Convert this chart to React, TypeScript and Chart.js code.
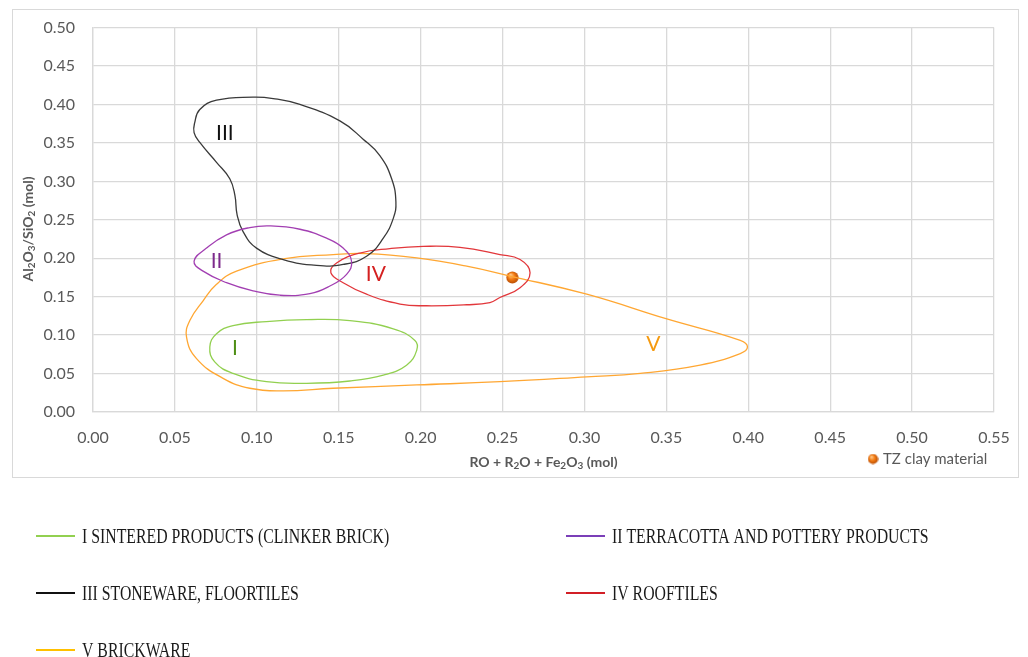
import { useEffect, useRef } from 'react';
import { Chart, registerables } from 'chart.js';

Chart.register(...registerables);

type Pt = [number, number];

// Axis tick labels
const xTickLabels = ['0.00', '0.05', '0.10', '0.15', '0.20', '0.25', '0.30', '0.35', '0.40', '0.45', '0.50', '0.55'];
const yTickLabels = ['0.00', '0.05', '0.10', '0.15', '0.20', '0.25', '0.30', '0.35', '0.40', '0.45', '0.50'];

// Winkler-type fields: outline points (RO + R2O + Fe2O3, Al2O3/SiO2)
const zoneI: Pt[] = [
  [0.0713, 0.0845], [0.0754, 0.1017], [0.0855, 0.1124], [0.1059, 0.1176], [0.1304, 0.1201],
  [0.1568, 0.1188], [0.1833, 0.1082], [0.1965, 0.0931], [0.1976, 0.0802], [0.1914, 0.0609],
  [0.1772, 0.0480], [0.1568, 0.0403], [0.1304, 0.0373], [0.1059, 0.0394], [0.0855, 0.0502],
  [0.0743, 0.0652],
];
const zoneII: Pt[] = [
  [0.0617, 0.1961], [0.0693, 0.2132], [0.0815, 0.2305], [0.0957, 0.2399], [0.1079, 0.2421],
  [0.1263, 0.2377], [0.1426, 0.2261], [0.1527, 0.2132], [0.1578, 0.1961], [0.1548, 0.1790],
  [0.1446, 0.1639], [0.1324, 0.1540], [0.1141, 0.1519], [0.0977, 0.1575], [0.0815, 0.1682],
  [0.0672, 0.1832],
];
const zoneIII: Pt[] = [
  [0.0977, 0.4095], [0.0754, 0.4056], [0.0652, 0.3935], [0.0621, 0.3764], [0.0617, 0.3635],
  [0.0652, 0.3506], [0.0754, 0.3248], [0.0835, 0.3034], [0.0866, 0.2820], [0.0880, 0.2562],
  [0.0916, 0.2347], [0.0998, 0.2132], [0.1161, 0.1983], [0.1365, 0.1906], [0.1527, 0.1919],
  [0.1670, 0.2025], [0.1772, 0.2261], [0.1833, 0.2519], [0.1849, 0.2734], [0.1823, 0.3034],
  [0.1751, 0.3335], [0.1649, 0.3549], [0.1507, 0.3786], [0.1263, 0.4000], [0.1100, 0.4077],
];
const zoneIV: Pt[] = [
  [0.1452, 0.1811], [0.1487, 0.1939], [0.1629, 0.2068], [0.1812, 0.2125], [0.2016, 0.2154],
  [0.2240, 0.2141], [0.2484, 0.2047], [0.2607, 0.1983], [0.2668, 0.1811], [0.2607, 0.1617],
  [0.2484, 0.1489], [0.2423, 0.1424], [0.2281, 0.1395], [0.2037, 0.1382], [0.1874, 0.1404],
  [0.1670, 0.1532], [0.1527, 0.1682],
];
const zoneV: Pt[] = [
  [0.0571, 0.0974], [0.0591, 0.1189], [0.0672, 0.1446], [0.0754, 0.1661], [0.0876, 0.1832],
  [0.1161, 0.1991], [0.1466, 0.2047], [0.1670, 0.2060], [0.1976, 0.2004], [0.2281, 0.1897],
  [0.2546, 0.1768], [0.3014, 0.1532], [0.3503, 0.1210], [0.3951, 0.0931], [0.3995, 0.0845],
  [0.3951, 0.0760], [0.3706, 0.0609], [0.3340, 0.0502], [0.3014, 0.0458], [0.2484, 0.0394],
  [0.1976, 0.0352], [0.1466, 0.0309], [0.1161, 0.0276], [0.0957, 0.0309], [0.0794, 0.0438],
  [0.0632, 0.0695],
];

const zones = [zoneI, zoneII, zoneIII, zoneIV, zoneV];
const zoneMarks = ['I', 'II', 'III', 'IV', 'V'];
const zoneMarkAt: Pt[] = [[0.0867, 0.0832], [0.0754, 0.1960], [0.0805, 0.3630], [0.1727, 0.1790], [0.3420, 0.0876]];
const zoneNames = [
  'I SINTERED PRODUCTS (CLINKER BRICK)',
  'II TERRACOTTA AND POTTERY PRODUCTS',
  'III STONEWARE, FLOORTILES',
  'IV ROOFTILES',
  'V BRICKWARE',
];

// Sample
const sampleName = 'TZ clay material';
const sampleX = [0.256];
const sampleY = [0.175];

// Styling
const lineColors = ['#92d050', '#a23fb2', '#3a3a3a', '#e2373b', '#ffa733'];
const markColors = ['#4f8f16', '#7d2a8c', '#111111', '#d42020', '#f59a10'];
const keyColors = ['#92d050', '#7b3fb8', '#111111', '#d21f26', '#ffc000'];
const SANS = 'Lato, "Open Sans", sans-serif';
const SERIF = '"Liberation Serif", "Times New Roman", serif';
const GRID = '#d9d9d9';
const TEXT = '#595959';

type Run = { t: string; sub?: boolean };
const xTitle: Run[] = [
  { t: 'RO + R' }, { t: '2', sub: true }, { t: 'O + Fe' }, { t: '2', sub: true },
  { t: 'O' }, { t: '3', sub: true }, { t: ' (mol)' },
];
const yTitle: Run[] = [
  { t: 'Al' }, { t: '2', sub: true }, { t: 'O' }, { t: '3', sub: true },
  { t: '/SiO' }, { t: '2', sub: true }, { t: ' (mol)' },
];

function makeSphere(d: number): HTMLCanvasElement {
  const c = document.createElement('canvas');
  c.width = d;
  c.height = d;
  const g = c.getContext('2d')!;
  const r = d / 2;
  const grad = g.createRadialGradient(r * 0.7, r * 0.6, r * 0.1, r, r, r);
  grad.addColorStop(0, '#ffc684');
  grad.addColorStop(0.45, '#f57d14');
  grad.addColorStop(1, '#b24700');
  g.fillStyle = grad;
  g.beginPath();
  g.arc(r, r, r - 0.4, 0, Math.PI * 2);
  g.fill();
  return c;
}

function drawRuns(ctx: CanvasRenderingContext2D, runs: Run[], cx: number, cy: number) {
  const main = `bold 14px ${SANS}`;
  const sub = `bold 10px ${SANS}`;
  let w = 0;
  for (const r of runs) {
    ctx.font = r.sub ? sub : main;
    w += ctx.measureText(r.t).width;
  }
  let x = cx - w / 2;
  ctx.textAlign = 'left';
  ctx.textBaseline = 'middle';
  for (const r of runs) {
    ctx.font = r.sub ? sub : main;
    ctx.fillText(r.t, x, r.sub ? cy + 3.5 : cy);
    x += ctx.measureText(r.t).width;
  }
}

// Turns the zone outlines into closed smooth loops
const closeLoops = {
  id: 'closeLoops',
  afterDatasetsUpdate(chart: any) {
    chart.data.datasets.forEach((ds: any, i: number) => {
      if (!ds.closed) return;
      const line = chart.getDatasetMeta(i).dataset;
      if (!line) return;
      line._loop = true;
      line._fullLoop = true;
      line._segments = undefined;
      line._path = undefined;
      line._pointsUpdated = false;
    });
  },
};

export default function App() {
  const ref = useRef<HTMLCanvasElement>(null);

  useEffect(() => {
    const canvas = ref.current!;
    const sphere = makeSphere(13);
    const keySphere = makeSphere(11);

    const decor = {
      id: 'decor',
      beforeDraw(chart: any) {
        const ctx: CanvasRenderingContext2D = chart.ctx;
        ctx.save();
        ctx.fillStyle = '#ffffff';
        ctx.fillRect(0, 0, chart.width, chart.height);
        ctx.strokeStyle = GRID;
        ctx.lineWidth = 1;
        ctx.strokeRect(12.5, 9.5, 1006, 468);
        ctx.restore();
      },
      afterDatasetsDraw(chart: any) {
        const ctx: CanvasRenderingContext2D = chart.ctx;
        const xs = chart.scales.x;
        const ys = chart.scales.y;
        const area = chart.chartArea;
        ctx.save();

        // zone numerals
        ctx.textAlign = 'center';
        ctx.textBaseline = 'middle';
        ctx.font = `21px ${SANS}`;
        zoneMarks.forEach((m, i) => {
          ctx.fillStyle = markColors[i];
          ctx.fillText(m, xs.getPixelForValue(zoneMarkAt[i][0]), ys.getPixelForValue(zoneMarkAt[i][1]));
        });

        // axis titles
        ctx.fillStyle = TEXT;
        drawRuns(ctx, xTitle, (area.left + area.right) / 2, 462);
        ctx.save();
        ctx.translate(28, 229);
        ctx.rotate(-Math.PI / 2);
        drawRuns(ctx, yTitle, 0, 0);
        ctx.restore();

        // sample key
        ctx.drawImage(keySphere, 873 - 5.5, 459 - 5.5);
        ctx.fillStyle = TEXT;
        ctx.font = `15px ${SANS}`;
        ctx.textAlign = 'left';
        ctx.textBaseline = 'middle';
        ctx.fillText(sampleName, 883, 459);

        // zone key below the chart box
        zoneNames.forEach((name, i) => {
          const x = i % 2 === 0 ? 36 : 566;
          const y = 536 + Math.floor(i / 2) * 57;
          ctx.strokeStyle = keyColors[i];
          ctx.lineWidth = 2;
          ctx.beginPath();
          ctx.moveTo(x, y);
          ctx.lineTo(x + 39, y);
          ctx.stroke();
          ctx.save();
          ctx.translate(x + 46, y + 6.5);
          ctx.scale(0.79, 1);
          ctx.fillStyle = '#1a1a1a';
          ctx.font = `20px ${SERIF}`;
          ctx.textAlign = 'left';
          ctx.textBaseline = 'alphabetic';
          ctx.fillText(name, 0, 0);
          ctx.restore();
        });

        ctx.restore();
      },
    };

    const datasets: any[] = zones.map((z, i) => ({
      label: zoneMarks[i],
      data: z.map(([x, y]) => ({ x, y })),
      borderColor: lineColors[i],
      backgroundColor: lineColors[i],
      borderWidth: 1.3,
      pointRadius: 0,
      tension: 0.45,
      fill: false,
      closed: true,
    }));
    datasets.push({
      label: sampleName,
      data: sampleX.map((x, i) => ({ x, y: sampleY[i] })),
      showLine: false,
      pointStyle: sphere,
      pointRadius: 6.5,
    });

    const chart = new Chart(canvas, {
      type: 'line',
      data: { datasets },
      plugins: [closeLoops, decor],
      options: {
        responsive: false,
        devicePixelRatio: 1,
        animation: false,
        events: [],
        layout: { padding: { left: 0, top: 24, right: 34, bottom: 185 } },
        plugins: { legend: { display: false }, tooltip: { enabled: false } },
        scales: {
          x: {
            type: 'linear',
            min: 0,
            max: 0.55,
            afterFit: (s: any) => { s.height = 60; },
            ticks: {
              stepSize: 0.05,
              padding: 16,
              color: TEXT,
              font: { family: SANS, size: 16 },
              callback: (_v: any, i: number) => xTickLabels[i],
            },
            grid: { color: GRID, lineWidth: 1.3, drawTicks: false },
            border: { color: GRID, width: 1.3 },
          },
          y: {
            type: 'linear',
            min: 0,
            max: 0.5,
            afterFit: (s: any) => { s.width = 93; },
            ticks: {
              stepSize: 0.05,
              padding: 18,
              color: TEXT,
              font: { family: SANS, size: 16 },
              callback: (_v: any, i: number) => yTickLabels[i],
            },
            grid: { color: GRID, lineWidth: 1.3, drawTicks: false },
            border: { color: GRID, width: 1.3 },
          },
        },
      } as any,
    });

    return () => chart.destroy();
  }, []);

  return (
    <div style={{ position: 'absolute', left: 0, top: 0, width: 1028, height: 657, background: '#fff' }}>
      <canvas ref={ref} width={1028} height={657} style={{ display: 'block', width: 1028, height: 657 }} />
    </div>
  );
}
